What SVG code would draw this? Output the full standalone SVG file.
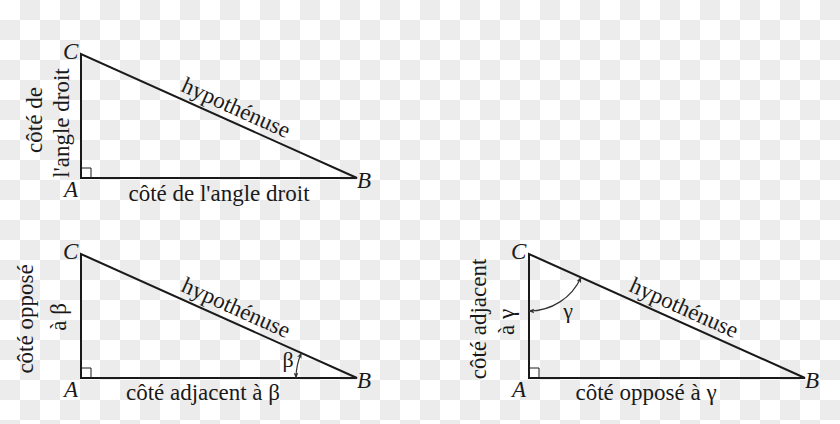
<svg xmlns="http://www.w3.org/2000/svg" width="840" height="424" viewBox="0 0 840 424">
<defs>
<pattern id="checker" width="40" height="40" patternUnits="userSpaceOnUse">
<rect width="40" height="40" fill="#ffffff"/>
<rect x="20" y="0" width="20" height="20" fill="#ececec"/>
<rect x="0" y="20" width="20" height="20" fill="#ececec"/>
</pattern>
<marker id="arr" viewBox="0 0 10 10" refX="9" refY="5" markerWidth="6" markerHeight="6" markerUnits="userSpaceOnUse" orient="auto-start-reverse">
<path d="M0,1 L10,5 L0,9 L2.5,5 Z" fill="#333"/>
</marker>
<style>
.side{fill:none;stroke:#1a1a1a;stroke-width:2;stroke-linejoin:miter}
.ra{fill:none;stroke:#1a1a1a;stroke-width:1}
.arc{fill:none;stroke:#333;stroke-width:1.2;marker-start:url(#arr);marker-end:url(#arr)}
.t{font-family:"Liberation Serif","Times New Roman",serif;font-size:23px;fill:#1a1a1a;text-anchor:middle}
.v{font-family:"Liberation Serif","Times New Roman",serif;font-size:23px;font-style:italic;fill:#1a1a1a}
.g{font-family:"Liberation Serif","Times New Roman",serif;font-size:22px;fill:#1a1a1a;text-anchor:middle}
</style>
</defs>
<rect width="840" height="424" fill="url(#checker)"/>

<g id="triangle1">
<path class="side" d="M81,54 L81,178 L357,178 Z"/>
<path class="ra" d="M81,168 H91 V178"/>
<text class="v" x="63" y="59">C</text>
<text class="v" x="64" y="197">A</text>
<text class="v" x="357" y="188">B</text>
<text class="t" transform="translate(233,114.6) rotate(24.2)">hypothénuse</text>
<text class="t" x="219" y="201">côté de l'angle droit</text>
<text class="t" transform="translate(42,120) rotate(-90)">côté de</text>
<text class="t" transform="translate(69,123) rotate(-90)">l'angle droit</text>
</g>

<g id="triangle2">
<path class="side" d="M81,254 L81,378 L357,378 Z"/>
<path class="ra" d="M81,368 H91 V378"/>
<text class="v" x="63" y="259">C</text>
<text class="v" x="64" y="397">A</text>
<text class="v" x="357" y="388">B</text>
<text class="t" transform="translate(233,314.6) rotate(24.2)">hypothénuse</text>
<text class="t" x="203" y="400">côté adjacent à β</text>
<text class="t" transform="translate(33,319) rotate(-90)">côté opposé</text>
<text class="t" transform="translate(66,317) rotate(-90)">à β</text>
<text class="g" x="288" y="367">β</text>
</g>

<g id="triangle3">
<path class="side" d="M529,254 L529,378 L805,378 Z"/>
<path class="ra" d="M529,368 H539 V378"/>
<text class="v" x="511" y="259">C</text>
<text class="v" x="512" y="397">A</text>
<text class="v" x="805" y="388">B</text>
<text class="t" transform="translate(681,314.6) rotate(24.2)">hypothénuse</text>
<text class="t" x="646" y="400">côté opposé à γ</text>
<text class="t" transform="translate(486,319) rotate(-90)">côté adjacent</text>
<text class="t" transform="translate(514,322) rotate(-90)">à γ</text>
<text class="g" x="568" y="318">γ</text>
</g>

<g id="connectors">
<path class="arc" d="M296,378 A61,61 0 0 1 301.4,353"/>
<path class="arc" d="M581,277.4 A57,57 0 0 1 529,311"/>
</g>
</svg>
